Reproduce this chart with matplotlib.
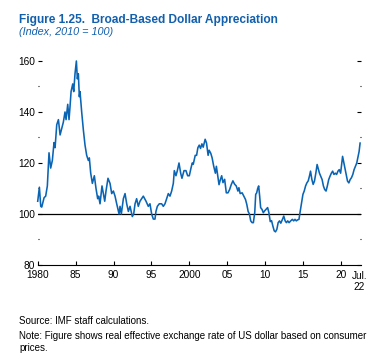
import matplotlib.pyplot as plt
from matplotlib.ticker import FixedLocator

# values (decimal year, index 2010 = 100)
years = [1980.0, 1980.22, 1980.40, 1980.53, 1980.84, 1981.05, 1981.27, 1981.49, 1981.71, 1981.93,
         1982.15, 1982.29, 1982.51, 1982.73, 1982.95, 1983.21, 1983.38, 1983.60, 1983.74, 1983.96,
         1984.13, 1984.26, 1984.40, 1984.62, 1984.75, 1984.92, 1985.10, 1985.23, 1985.36, 1985.49,
         1985.58, 1985.80, 1986.02, 1986.24, 1986.46, 1986.68, 1986.81, 1986.99, 1987.21, 1987.47,
         1987.69, 1987.91, 1988.04, 1988.22, 1988.48, 1988.84, 1989.01, 1989.27, 1989.54, 1989.76,
         1989.98, 1990.20, 1990.42, 1990.73, 1990.86, 1991.03, 1991.30, 1991.52, 1991.74, 1991.96,
         1992.18, 1992.48, 1992.66, 1992.84, 1993.05, 1993.27, 1993.49, 1993.93, 1994.29, 1994.59,
         1994.81, 1995.03, 1995.25, 1995.47, 1995.60, 1995.78, 1996.04, 1996.35, 1996.57, 1996.79,
         1997.01, 1997.23, 1997.45, 1997.67, 1997.89, 1998.02, 1998.24, 1998.42, 1998.64, 1998.86,
         1999.03, 1999.30, 1999.56, 1999.78, 2000.00, 2000.22, 2000.39, 2000.52, 2000.78, 2000.96,
         2001.13, 2001.31, 2001.48, 2001.66, 2001.83, 2002.09, 2002.27, 2002.48, 2002.61, 2002.83,
         2003.01, 2003.22, 2003.44, 2003.57, 2003.75, 2003.92, 2004.10, 2004.27, 2004.44, 2004.66,
         2004.88, 2005.10, 2005.32, 2005.53, 2005.75, 2005.97, 2006.19, 2006.41, 2006.54, 2006.71,
         2006.97, 2007.19, 2007.41, 2007.58, 2007.76, 2007.93, 2008.10, 2008.28, 2008.45, 2008.63,
         2008.76, 2008.89, 2009.02, 2009.15, 2009.28, 2009.41, 2009.59, 2009.76, 2009.93, 2010.11,
         2010.33, 2010.50, 2010.68, 2010.85, 2011.02, 2011.20, 2011.37, 2011.55, 2011.72, 2011.90,
         2012.07, 2012.29, 2012.46, 2012.64, 2012.81, 2012.98, 2013.16, 2013.38, 2013.59, 2013.77,
         2013.94, 2014.12, 2014.29, 2014.47, 2014.60, 2014.81, 2014.99, 2015.16, 2015.34, 2015.51,
         2015.69, 2015.86, 2015.99, 2016.17, 2016.34, 2016.51, 2016.69, 2016.86, 2016.99, 2017.17,
         2017.34, 2017.52, 2017.69, 2017.86, 2018.04, 2018.21, 2018.39, 2018.56, 2018.74, 2018.91,
         2019.08, 2019.26, 2019.43, 2019.61, 2019.78, 2019.96, 2020.09, 2020.22, 2020.35, 2020.52,
         2020.70, 2020.87, 2021.05, 2021.22, 2021.39, 2021.57, 2021.74, 2021.92, 2022.09, 2022.27,
         2022.40, 2022.53]
reer = [105, 110.5, 103, 102.7, 106.4, 107, 111, 124, 118, 121,
        128, 126, 135, 137, 131, 134, 136, 140, 137, 143,
        137, 142, 148, 151, 148, 155, 160, 153, 155, 146,
        148, 140, 133, 127, 123, 121, 122, 116, 112, 115,
        110, 106, 107, 104, 111, 105, 109, 114, 112, 108,
        109, 107, 104, 100, 103, 100, 106, 108, 104, 101,
        103, 99, 100, 104, 106, 103, 105, 107, 105, 103,
        104, 100, 98, 98, 101, 103, 104, 104, 103, 104,
        106, 108, 107, 109, 112, 117, 115, 117, 120, 116,
        114, 117, 117, 115, 115, 118, 120, 119.5, 123, 123,
        126, 127, 125.7, 127.5, 126.2, 129.3, 127.8, 123, 125, 123.8,
        122, 118.7, 116, 118.7, 115, 111.5, 113.5, 115, 112.3, 113.6,
        108.3, 108.3, 109.6, 111.5, 113, 111.7, 111, 109, 110.3, 108,
        108.3, 107, 105.7, 103.8, 101, 100, 97.3, 96.6, 96.6, 100.5,
        107.7, 108.3, 110, 111, 107, 102.5, 101.8, 100.5, 101.2, 101.8,
        102.5, 100.5, 97, 97.4, 95.3, 93.4, 93, 94, 96.6, 97.3,
        96.4, 97.9, 99.2, 97.3, 96.6, 97.3, 96.6, 97.3, 97.9, 97.3,
        97.9, 97.3, 97.7, 97.9, 100.5, 104.4, 107.7, 109, 111, 112.2,
        113, 115, 116.8, 113.5, 111.6, 112.9, 116, 119.4, 118, 116,
        114.8, 113.5, 111, 109.6, 109, 111, 113.5, 114.8, 116, 116.8,
        115.5, 116, 115.5, 116.8, 117.4, 116, 119.4, 122.6, 120.7, 118,
        115.5, 112.9, 112.2, 113.5, 114.2, 115.5, 117.4, 118.7, 120, 122.6,
        124.5, 127.8]

xticks = [1980, 1985, 1990, 1995, 2000, 2005, 2010, 2015, 2020]
xlabels = ['1980', '85', '90', '95', '2000', '05', '10', '15', '20']
yticks = [80, 100, 120, 140, 160]
yminor = [90, 110, 130, 150]

blue = '#0a64b4'
title_blue = '#1260ad'
plt.rcParams['font.family'] = ['Liberation Sans', 'DejaVu Sans']

fig = plt.figure(figsize=(3.81, 3.63), dpi=100)
ax = fig.add_axes([0.099, 0.270, 0.8485, 0.562])

ax.axhline(100, color='black', lw=0.9, zorder=1)
ax.plot(years, reer, color=blue, lw=1.15, zorder=2, clip_on=False)

ax.set_xlim(1980, 2022.65)
ax.set_ylim(80, 160)

for s in ['left', 'right', 'top']:
    ax.spines[s].set_visible(False)
ax.spines['bottom'].set_linewidth(0.8)

ax.set_xticks(xticks)
ax.set_xticklabels(xlabels)
ax.set_yticks(yticks)
ax.yaxis.set_minor_locator(FixedLocator(yminor))
ax.tick_params(axis='x', direction='in', length=3, width=0.8, pad=3.6, labelsize=7.3)
ax.tick_params(axis='y', which='major', direction='in', length=3, width=0.8,
               pad=2, labelsize=7.3, left=True, right=True)
ax.tick_params(axis='y', which='minor', direction='in', length=1, width=0.8,
               left=True, right=True)

ax.text(2022.45, -0.03, 'Jul.\n22', transform=ax.get_xaxis_transform(),
        ha='center', va='top', fontsize=7.3, linespacing=1.15)

fig.text(0.05, 0.9375, 'Figure 1.25.  Broad-Based Dollar Appreciation',
         color=title_blue, fontsize=8.6, fontweight='bold', va='baseline')
fig.text(0.05, 0.903, '(Index, 2010 = 100)', color=title_blue, fontsize=7.8,
         style='italic', va='baseline')

fig.text(0.05, 0.1074, 'Source: IMF staff calculations.', fontsize=7, va='baseline')
fig.text(0.05, 0.066, 'Note: Figure shows real effective exchange rate of US dollar based on consumer',
         fontsize=7, va='baseline')
fig.text(0.05, 0.032, 'prices.', fontsize=7, va='baseline')

fig.savefig('out.png', dpi=100)
